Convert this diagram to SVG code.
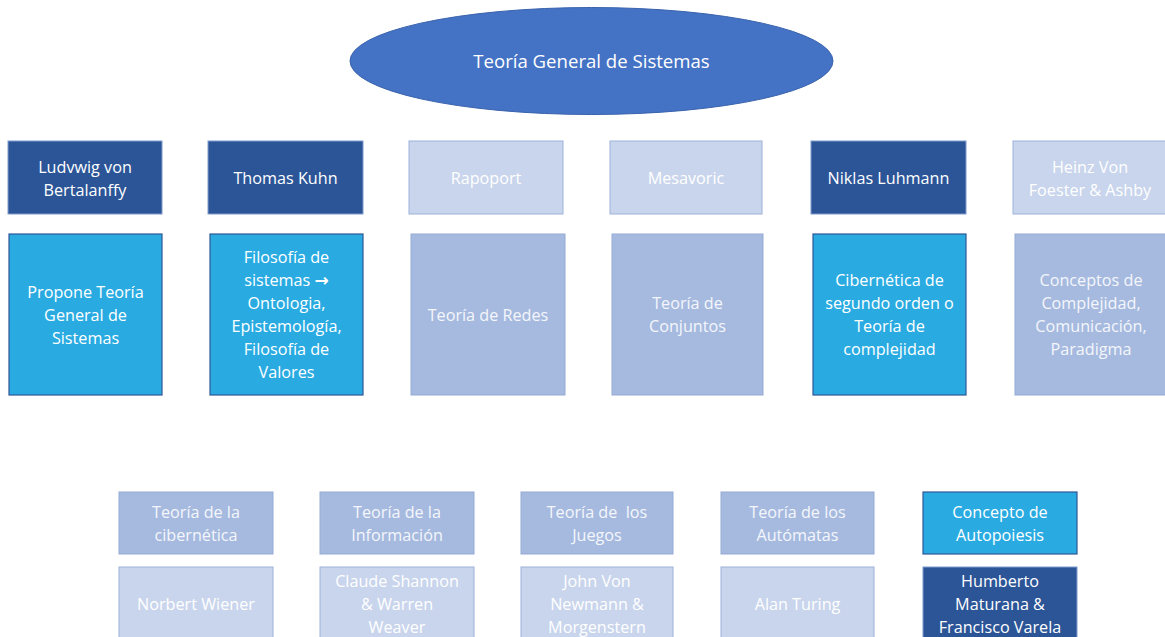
<svg xmlns="http://www.w3.org/2000/svg" width="1165" height="637" viewBox="0 0 1165 637">
<style>
text{font-family:"Open Sans","Liberation Sans",sans-serif;font-size:16.2px;fill:#ffffff;text-anchor:middle;white-space:pre}
.dark{fill:#2B5597;stroke:#7F9BCB;stroke-width:1}
.cyan{fill:#29ABE2;stroke:#2F5597;stroke-width:1.2}
.med{fill:#A6BADF;stroke:#95ABD6;stroke-width:1}
.light{fill:#C9D5EC;stroke:#9DB1D9;stroke-width:1}
.fade{fill:#F4F6FB}
.arr{font-family:"DejaVu Sans",sans-serif;font-weight:bold;font-size:17px}
</style>
<rect width="1165" height="637" fill="#ffffff"/>
<g id="title">
<ellipse cx="591.5" cy="61" rx="241.5" ry="53.5" fill="#4472C4" stroke="#3A63AD" stroke-width="1"/>
<text x="591.5" y="68" style="font-size:18.6px">Teoría General de Sistemas</text>
</g>
<g id="connectors"></g>
<g id="n-bertalanffy"><rect class="dark" x="8" y="141" width="154" height="73"/><text x="85" y="173">Ludvwig von</text><text x="85" y="196">Bertalanffy</text></g>
<g id="n-kuhn"><rect class="dark" x="208" y="141" width="155" height="73"/><text x="285.5" y="184">Thomas Kuhn</text></g>
<g id="n-rapoport"><rect class="light" x="409" y="141" width="154" height="73"/><text x="486" y="184">Rapoport</text></g>
<g id="n-mesavoric"><rect class="light" x="610" y="141" width="152" height="73"/><text x="686" y="184">Mesavoric</text></g>
<g id="n-luhmann"><rect class="dark" x="811" y="141" width="155" height="73"/><text x="888.5" y="184">Niklas Luhmann</text></g>
<g id="n-foester"><rect class="light" x="1013" y="141" width="155" height="73"/><text x="1090" y="173">Heinz Von</text><text x="1090" y="196">Foester &amp; Ashby</text></g>
<g id="n-propone"><rect class="cyan" x="9" y="234" width="153" height="161"/><text x="85.5" y="298">Propone Teoría</text><text x="85.5" y="321">General de</text><text x="85.5" y="344">Sistemas</text></g>
<g id="n-filosofia"><rect class="cyan" x="210" y="234" width="153" height="161"/><text x="286.5" y="263">Filosofía de</text><text x="286.5" y="286">sistemas <tspan class="arr">→</tspan></text><text x="286.5" y="309">Ontologia,</text><text x="286.5" y="332">Epistemología,</text><text x="286.5" y="355">Filosofía de</text><text x="286.5" y="378">Valores</text></g>
<g id="n-redes"><rect class="med" x="411" y="234" width="154" height="161"/><text class="fade" x="488" y="321">Teoría de Redes</text></g>
<g id="n-conjuntos"><rect class="med" x="612" y="234" width="151" height="161"/><text class="fade" x="687.5" y="309">Teoría de</text><text class="fade" x="687.5" y="332">Conjuntos</text></g>
<g id="n-cibernetica2"><rect class="cyan" x="813" y="234" width="153" height="161"/><text x="889.5" y="286">Cibernética de</text><text x="889.5" y="309">segundo orden o</text><text x="889.5" y="332">Teoría de</text><text x="889.5" y="355">complejidad</text></g>
<g id="n-conceptos"><rect class="med" x="1015" y="234" width="153" height="161"/><text class="fade" x="1091" y="286">Conceptos de</text><text class="fade" x="1091" y="309">Complejidad,</text><text class="fade" x="1091" y="332">Comunicación,</text><text class="fade" x="1091" y="355">Paradigma</text></g>
<g id="n-cibernetica"><rect class="med" x="119" y="492" width="154" height="62"/><text class="fade" x="196" y="518">Teoría de la</text><text class="fade" x="196" y="541">cibernética</text></g>
<g id="n-informacion"><rect class="med" x="320" y="492" width="154" height="62"/><text class="fade" x="397" y="518">Teoría de la</text><text class="fade" x="397" y="541">Información</text></g>
<g id="n-juegos"><rect class="med" x="521" y="492" width="152" height="62"/><text class="fade" x="597" y="518">Teoría de  los</text><text class="fade" x="597" y="541">Juegos</text></g>
<g id="n-automatas"><rect class="med" x="721" y="492" width="153" height="62"/><text class="fade" x="797.5" y="518">Teoría de los</text><text class="fade" x="797.5" y="541">Autómatas</text></g>
<g id="n-autopoiesis"><rect class="cyan" x="923" y="492" width="154" height="62"/><text x="1000" y="518">Concepto de</text><text x="1000" y="541">Autopoiesis</text></g>
<g id="n-wiener"><rect class="light" x="119" y="567" width="154" height="80"/><text x="196" y="610">Norbert Wiener</text></g>
<g id="n-shannon"><rect class="light" x="320" y="567" width="154" height="80"/><text x="397" y="587">Claude Shannon</text><text x="397" y="610">&amp; Warren</text><text x="397" y="633">Weaver</text></g>
<g id="n-neumann"><rect class="light" x="521" y="567" width="152" height="80"/><text x="597" y="587">John Von</text><text x="597" y="610">Newmann &amp;</text><text x="597" y="633">Morgenstern</text></g>
<g id="n-turing"><rect class="light" x="721" y="567" width="153" height="80"/><text x="797.5" y="610">Alan Turing</text></g>
<g id="n-maturana"><rect class="dark" x="923" y="567" width="154" height="80"/><text x="1000" y="587">Humberto</text><text x="1000" y="610">Maturana &amp;</text><text x="1000" y="633">Francisco Varela</text></g>
</svg>
